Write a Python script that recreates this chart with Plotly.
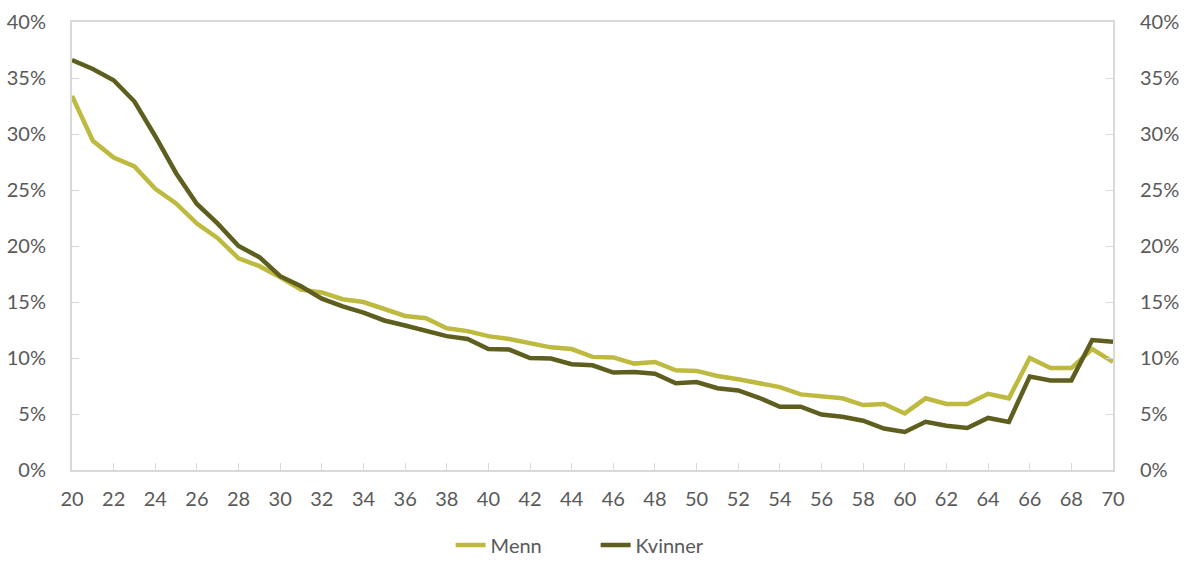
import plotly.graph_objects as go

ages = list(range(20, 71))

menn = [33.4, 29.4, 27.9, 27.1, 25.1, 23.8, 22.0, 20.7, 18.9, 18.2,
        17.2, 16.1, 15.85, 15.25, 15.0, 14.4, 13.75, 13.55, 12.65, 12.4,
        11.95, 11.7, 11.35, 10.95, 10.8, 10.1, 10.05, 9.5, 9.65, 8.9,
        8.85, 8.4, 8.1, 7.75, 7.4, 6.75, 6.6, 6.4, 5.8, 5.9,
        5.05, 6.4, 5.9, 5.9, 6.8, 6.4, 10.0, 9.1, 9.1, 10.8, 9.65]

kvinner = [36.6, 35.8, 34.8, 32.9, 29.8, 26.5, 23.75, 22.0, 20.0, 19.0,
           17.3, 16.4, 15.3, 14.6, 14.05, 13.35, 12.9, 12.4, 11.95, 11.7,
           10.8, 10.75, 10.0, 9.95, 9.45, 9.35, 8.7, 8.75, 8.6, 7.75,
           7.85, 7.3, 7.1, 6.45, 5.65, 5.65, 4.95, 4.75, 4.4, 3.7,
           3.4, 4.3, 3.95, 3.75, 4.65, 4.3, 8.35, 8.0, 8.0, 11.6, 11.45]

y_ticks = [0, 5, 10, 15, 20, 25, 30, 35, 40]
y_labels = [f"{v}%" for v in y_ticks]
x_ticks = list(range(20, 71, 2))

col_menn = "#BDBA3F"
col_kvinner = "#5E5E1E"
grey = "#D9D9D9"
text = "#595959"
font_family = "Lato, Carlito, 'Open Sans', sans-serif"
fsize = 20

fig = go.Figure()
fig.add_trace(go.Scatter(x=ages, y=menn, mode="lines", name="Menn",
                         line=dict(color=col_menn, width=4.5)))
fig.add_trace(go.Scatter(x=ages, y=kvinner, mode="lines", name="Kvinner",
                         line=dict(color=col_kvinner, width=4.5)))
# mirror of the value scale on the right-hand side
fig.add_trace(go.Scatter(x=ages, y=kvinner, mode="lines", yaxis="y2",
                         showlegend=False, hoverinfo="skip",
                         line=dict(color="rgba(0,0,0,0)", width=0)))

axis_common = dict(range=[0, 40], tickvals=y_ticks, ticktext=y_labels,
                   showgrid=False, zeroline=False, showline=True,
                   linecolor=grey, linewidth=2, ticks="inside",
                   ticklen=7, tickcolor=grey, tickwidth=1, automargin=False,
                   tickfont=dict(size=fsize, color=text, family=font_family))

fig.update_layout(
    width=1189, height=563,
    paper_bgcolor="white", plot_bgcolor="white",
    margin=dict(l=72, r=76, t=22, b=93),
    xaxis=dict(range=[20, 70], tickvals=x_ticks, showgrid=False,
               zeroline=False, showline=True, mirror=True,
               linecolor=grey, linewidth=2, ticks="inside", ticklen=7,
               tickcolor=grey, tickwidth=1, ticklabelstandoff=10,
               automargin=False,
               tickfont=dict(size=fsize, color=text, family=font_family)),
    yaxis=dict(side="left", ticklabelstandoff=20, **axis_common),
    yaxis2=dict(side="right", overlaying="y", ticklabelstandoff=21,
                **axis_common),
    legend=dict(orientation="h", x=0.503, xanchor="center",
                yref="container", y=0.032, yanchor="middle",
                entrywidth=100,
                font=dict(size=fsize, color=text, family=font_family)),
    font=dict(family=font_family, color=text),
)

fig.write_html("out.html")
